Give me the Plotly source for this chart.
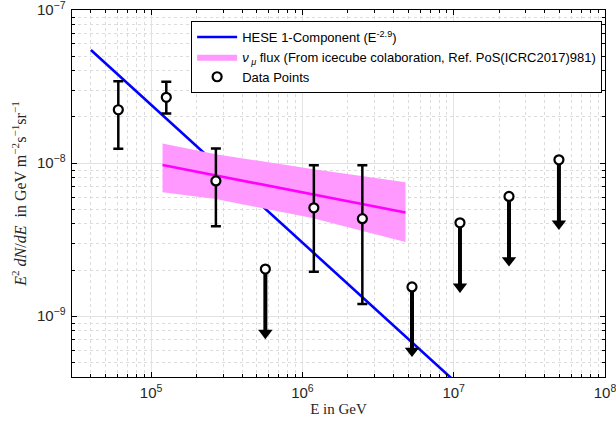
import numpy as np
import plotly.graph_objects as go

# ---- data ----
# measured points with error bars
E_pts = [6.07e4, 1.26e5, 2.68e5, 1.19e6, 2.49e6]
F_pts = [2.23e-8, 2.69e-8, 7.64e-9, 5.10e-9, 4.33e-9]
F_hi = [3.42e-8, 3.40e-8, 1.245e-8, 9.68e-9, 9.68e-9]
F_lo = [1.24e-8, 2.11e-8, 3.87e-9, 1.95e-9, 1.20e-9]

# upper limits
E_ul = [5.69e5, 5.30e6, 1.10e7, 2.32e7, 4.96e7]
F_ul = [2.03e-9, 1.55e-9, 4.07e-9, 6.05e-9, 1.05e-8]

# HESE single power law (E^2 flux ~ E^-0.9)
hese_norm = 2.4e-8      # at 1e5 GeV
hese_index = -2.9
hese_E = [4.0e4, 1.0e7]

# numu flux band (IceCube ICRC2017)
band_E = [1.19e5, 2.68e5, 1.16e6, 4.8e6]
band_mid = [9.7e-9, 8.3e-9, 6.3e-9, 4.75e-9]
band_up = [1.34e-8, 1.14e-8, 9.16e-9, 7.48e-9]
band_low = [6.44e-9, 5.82e-9, 4.38e-9, 3.05e-9]

x_range = [3e4, 1e8]
y_range = [4e-10, 1e-7]

# ---- figure ----
fig = go.Figure()

fig.add_trace(go.Scatter(
    x=hese_E,
    y=[hese_norm * (e / 1e5) ** (hese_index + 2) for e in hese_E],
    mode="lines", line=dict(color="#0000ff", width=2.6),
    name="HESE 1-Component (E<sup>-2.9</sup>)", legendrank=1))

fig.add_trace(go.Scatter(
    x=band_E + band_E[::-1], y=band_up + band_low[::-1],
    fill="toself", fillcolor="#ff99ff", line=dict(width=0, color="#ff99ff"),
    mode="lines",
    name="<i>ν</i><sub><i> μ</i></sub> flux (From icecube colaboration, Ref. PoS(ICRC2017)981)",
    legendrank=2))

fig.add_trace(go.Scatter(
    x=band_E, y=band_mid, mode="lines",
    line=dict(color="#ff00ff", width=2.6), showlegend=False))

# arrows for upper limits
arrow_dec = 0.45
head_px = 10
for e, f in zip(E_ul, F_ul):
    tipc = f * 10 ** (-arrow_dec + (head_px / 2) / 152.5)
    fig.add_trace(go.Scatter(
        x=[e, e], y=[f, tipc], mode="lines",
        line=dict(color="black", width=4), showlegend=False, hoverinfo="skip"))
fig.add_trace(go.Scatter(
    x=E_ul, y=[f * 10 ** (-arrow_dec + (head_px / 2) / 152.5) for f in F_ul],
    mode="markers", marker=dict(symbol="triangle-down", size=12.5, color="black",
                                line=dict(width=0)),
    showlegend=False, hoverinfo="skip"))
fig.add_trace(go.Scatter(
    x=E_ul, y=F_ul, mode="markers",
    marker=dict(symbol="circle", size=9, color="white",
                line=dict(color="black", width=2.2)),
    showlegend=False))

fig.add_trace(go.Scatter(
    x=E_pts, y=F_pts, mode="markers",
    marker=dict(symbol="circle", size=9, color="white",
                line=dict(color="black", width=2.2)),
    error_y=dict(type="data", symmetric=False,
                 array=[h - f for h, f in zip(F_hi, F_pts)],
                 arrayminus=[f - l for f, l in zip(F_pts, F_lo)],
                 color="black", thickness=2.5, width=5),
    name="Data Points", legendrank=3))

axis_common = dict(
    type="log", showline=True, linecolor="black", linewidth=1, mirror="allticks",
    ticks="inside", ticklen=5, tickcolor="black", dtick=1, automargin=False,
    exponentformat="power", showexponent="all", ticklabeloverflow="allow",
    ticklabelstandoff=3,
    showgrid=True, gridcolor="#e3e3e3", gridwidth=1, zeroline=False,
    tickfont=dict(family="Liberation Sans, Arial", size=12, color="#262626"),
    minor=dict(ticks="inside", ticklen=3, tickcolor="black", showgrid=True,
               gridcolor="#dcdcdc", griddash="dot", gridwidth=1),
)

fig.update_xaxes(**axis_common, range=[np.log10(x_range[0]), np.log10(x_range[1])],
                 title=dict(text="E in GeV", standoff=0,
                            font=dict(family="Liberation Serif, DejaVu Serif", size=15, color="#262626")))
fig.update_yaxes(**axis_common, range=[np.log10(y_range[0]), np.log10(y_range[1])],
                 title=dict(text="<i>E</i><sup>2</sup> <i>dN</i>/<i>dE</i>  in GeV m<sup>−2</sup>s<sup>−1</sup>sr<sup>−1</sup>",
                            standoff=6,
                            font=dict(family="Liberation Serif, DejaVu Serif", size=16, color="#262626")))

fig.update_layout(
    width=616, height=428,
    margin=dict(l=72, r=11, t=10, b=51),
    paper_bgcolor="white", plot_bgcolor="white",
    showlegend=True,
    legend=dict(x=0.2235, y=0.97, xanchor="left", yanchor="top",
                bgcolor="white", bordercolor="black", borderwidth=1,
                font=dict(family="Liberation Sans, Arial", size=13, color="black"),
                itemwidth=40, tracegroupgap=0),
)

fig.write_html("out.html", config={"displayModeBar": False},
               post_script="document.body.style.margin='0px';")
